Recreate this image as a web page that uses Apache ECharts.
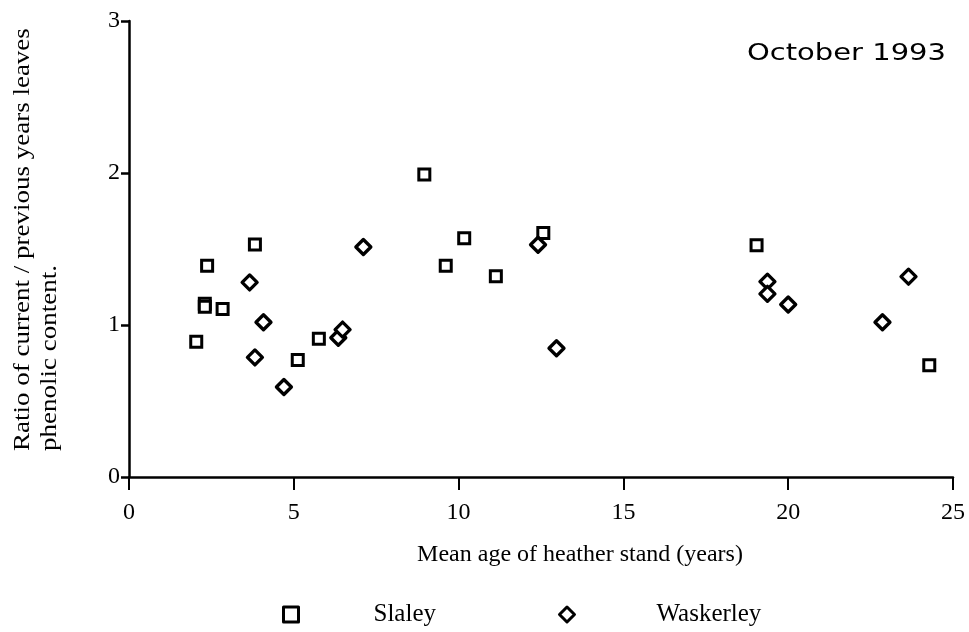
<!DOCTYPE html>
<html>
<head>
<meta charset="utf-8">
<script src="https://cdn.jsdelivr.net/npm/echarts@6/dist/echarts.min.js"></script>
<style>
  html, body { margin: 0; padding: 0; background: #ffffff; }
  #chart { width: 969px; height: 632px; }
</style>
</head>
<body>
<div id="chart"></div>
<script>
// Mean stand age (years) and current / previous year phenolic ratio, October 1993
const slaleyAge   = [2.04, 2.30, 2.30, 2.37, 2.84, 3.82, 5.12, 5.76, 8.96, 9.61, 10.17, 11.13, 12.57, 19.04, 24.28];
const slaleyRatio = [0.89, 1.14, 1.12, 1.39, 1.105, 1.53, 0.77, 0.91, 1.99, 1.39, 1.57, 1.32, 1.605, 1.525, 0.735];

const waskerleyAge   = [3.66, 3.82, 4.08, 4.70, 6.35, 6.48, 7.11, 12.41, 12.97, 19.37, 19.37, 20.00, 22.86, 23.65];
const waskerleyRatio = [1.28, 0.787, 1.018, 0.592, 0.916, 0.97, 1.513, 1.528, 0.847, 1.285, 1.205, 1.135, 1.018, 1.318];

const xTicks = [0, 5, 10, 15, 20, 25];
const yTicks = [0, 1, 2, 3];

const seriesNames = ['Slaley', 'Waskerley'];
const chartTitle = 'October 1993';
const xAxisTitle = 'Mean age of heather stand (years)';
const yAxisTitle = ['Ratio of current / previous years leaves', 'phenolic content.'];

const SERIF = '"Liberation Serif", "Times New Roman", serif';

function pairs(xs, ys) {
  return xs.map((x, i) => [x, ys[i]]);
}

const chart = echarts.init(document.getElementById('chart'), null, { renderer: 'canvas' });

const axisCommon = {
  type: 'value',
  splitLine: { show: false },
  axisLine: { show: true, onZero: false, lineStyle: { color: '#000', width: 2.5 } },
  axisTick: { show: true, inside: false, lineStyle: { color: '#000', width: 2 } },
  axisLabel: { color: '#000', fontFamily: SERIF, fontSize: 23 }
};

chart.setOption({
  animation: false,
  backgroundColor: '#ffffff',
  grid: { left: 129, right: 16, top: 21, bottom: 155, containLabel: false },
  xAxis: Object.assign({}, axisCommon, {
    min: xTicks[0],
    max: xTicks[xTicks.length - 1],
    interval: xTicks[1] - xTicks[0],
    name: xAxisTitle,
    nameLocation: 'middle',
    nameGap: 66,
    nameTextStyle: { color: '#000', fontFamily: SERIF, fontSize: 24, padding: [0, 0, 0, 78] },
    axisTick: { show: true, inside: false, length: 13, lineStyle: { color: '#000', width: 2 } },
    axisLabel: { color: '#000', fontFamily: SERIF, fontSize: 24, margin: 24 }
  }),
  yAxis: Object.assign({}, axisCommon, {
    min: yTicks[0],
    max: yTicks[yTicks.length - 1],
    interval: yTicks[1] - yTicks[0],
    axisTick: { show: true, inside: false, length: 8, lineStyle: { color: '#000', width: 2.5 } },
    axisLabel: { color: '#000', fontFamily: SERIF, fontSize: 24, margin: 9 }
  }),
  legend: {
    data: [
      { name: seriesNames[0], textStyle: { padding: [0, 0, 0, 70] } },
      { name: seriesNames[1], textStyle: { padding: [0, 0, 0, 77] } }
    ],
    left: 282,
    top: 602,
    padding: 0,
    itemWidth: 15,
    itemHeight: 15,
    itemGap: 122,
    itemStyle: { borderWidth: 3, borderColor: '#000', color: '#fff', borderJoin: 'round' },
    textStyle: { color: '#000', fontFamily: SERIF, fontSize: 25 },
    selectedMode: false
  },
  graphic: [
    {
      type: 'text',
      x: 747,
      y: 54,
      scaleX: 1.26,
      silent: true,
      style: {
        text: chartTitle,
        font: '23px "DejaVu Sans", sans-serif',
        fill: '#000',
        textAlign: 'left',
        textVerticalAlign: 'middle'
      }
    },
    {
      type: 'text',
      x: 9,
      y: 451,
      rotation: Math.PI / 2,
      scaleY: 0.88,
      silent: true,
      style: {
        text: yAxisTitle.join('\n'),
        font: '27px ' + SERIF,
        lineHeight: 31,
        fill: '#000',
        textAlign: 'left',
        textVerticalAlign: 'top'
      }
    }
  ],
  series: [
    {
      name: seriesNames[0],
      type: 'scatter',
      symbol: 'rect',
      symbolSize: 11,
      data: pairs(slaleyAge, slaleyRatio),
      itemStyle: { color: '#ffffff', borderColor: '#000000', borderWidth: 3, opacity: 1 },
      emphasis: { disabled: true }
    },
    {
      name: seriesNames[1],
      type: 'scatter',
      symbol: 'diamond',
      symbolSize: 15,
      data: pairs(waskerleyAge, waskerleyRatio),
      itemStyle: { color: '#ffffff', borderColor: '#000000', borderWidth: 3.3, borderJoin: 'round', opacity: 1 },
      emphasis: { disabled: true }
    }
  ]
});
</script>
</body>
</html>
